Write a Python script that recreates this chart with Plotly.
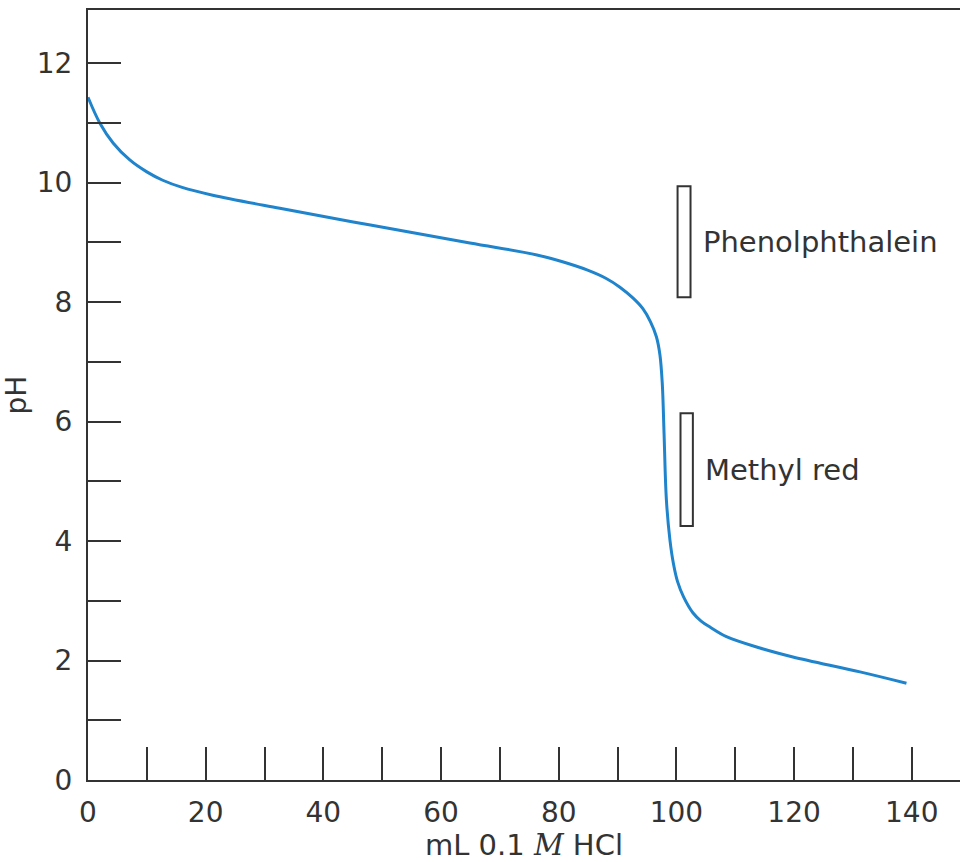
import plotly.graph_objects as go

# Titration curve: mL of 0.1 M HCl added vs pH
volume_ml = [0, 2.0, 4.3, 7.1, 10.0, 12.7, 16.0, 21.2, 32.6, 48.0, 64.9, 76.3, 80.5, 84.8, 88.0,
             90.4, 92.6, 94.3, 95.6, 96.6, 97.2, 97.6, 97.9, 98.3, 98.9, 99.5, 100.2, 101.2,
             102.8, 104.2, 105.7, 108.5, 114.2, 119.8, 131.2, 139.1]
ph_values = [11.43, 11.0, 10.66, 10.38, 10.18, 10.04, 9.92, 9.79, 9.57, 9.29, 8.99, 8.79, 8.68,
             8.54, 8.40, 8.25, 8.07, 7.89, 7.67, 7.42, 7.12, 6.64, 5.81, 4.69, 4.02, 3.62, 3.32,
             3.07, 2.80, 2.66, 2.56, 2.40, 2.21, 2.06, 1.81, 1.62]

# Indicator transition ranges (pH)
indicator_names = ["Phenolphthalein", "Methyl red"]
indicator_low = [8.08, 4.25]
indicator_high = [9.94, 6.14]
indicator_x0 = [100.2, 100.7]
indicator_x1 = [102.4, 102.8]

x_tickvals = [0, 20, 40, 60, 80, 100, 120, 140]
y_tickvals = [0, 2, 4, 6, 8, 10, 12]

INK = "#333333"
FONT = "DejaVu Sans"

fig = go.Figure()
fig.add_trace(go.Scatter(
    x=volume_ml, y=ph_values, mode="lines",
    line=dict(color="#1f84cc", width=3, shape="spline", smoothing=1.0),
    showlegend=False, hoverinfo="skip",
))

for name, lo, hi, x0, x1 in zip(indicator_names, indicator_low, indicator_high,
                                indicator_x0, indicator_x1):
    fig.add_shape(type="rect", xref="x", yref="y", x0=x0, x1=x1, y0=lo, y1=hi,
                  line=dict(color=INK, width=2), fillcolor="white")
    fig.add_annotation(x=x1 + 1.8, y=(lo + hi) / 2, xref="x", yref="y",
                       text=name, showarrow=False, xanchor="left", yanchor="middle",
                       font=dict(family=FONT, size=29, color=INK))

axis_common = dict(
    showline=True, linecolor=INK, linewidth=2,
    ticks="inside", ticklen=33, tickwidth=2, tickcolor=INK,
    showgrid=False, zeroline=False,
    tickfont=dict(family=FONT, size=28, color=INK),
)

fig.update_xaxes(
    range=[0, 148.2], tickvals=x_tickvals, mirror=True,
    minor=dict(dtick=10, tick0=0, ticks="inside", ticklen=33, tickwidth=2, tickcolor=INK),
    title=dict(text="mL 0.1 <i><span style=\"font-family:'DejaVu Serif'\">M</span></i> HCl",
               font=dict(family=FONT, size=29, color=INK), standoff=10),
    ticklabelstandoff=6,
    **axis_common,
)
fig.update_yaxes(
    range=[0, 12.89], tickvals=y_tickvals, mirror=False,
    minor=dict(dtick=1, tick0=0, ticks="inside", ticklen=33, tickwidth=2, tickcolor=INK),
    title=dict(text="pH", font=dict(family=FONT, size=28, color=INK), standoff=10),
    ticklabelstandoff=8,
    **axis_common,
)

fig.update_layout(
    width=963, height=862,
    margin=dict(l=88, r=3, t=10, b=82),
    plot_bgcolor="white", paper_bgcolor="white",
)

fig.write_html("out.html")
